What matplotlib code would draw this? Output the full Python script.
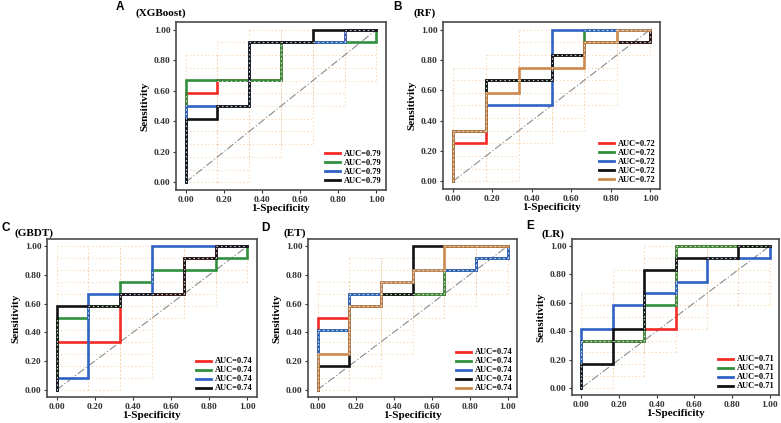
import numpy as np
import matplotlib
matplotlib.use("Agg")
import matplotlib.pyplot as plt
from matplotlib.lines import Line2D

W, H = 781, 423
SERIF = "Liberation Serif"
SANS = "Liberation Sans"

# ---------------- data ----------------
fpr_steps = [0.0, 1/6, 2/6, 3/6, 4/6, 5/6, 1.0]
tick_values = [0.0, 0.2, 0.4, 0.6, 0.8, 1.0]
tick_labels = ["0.00", "0.20", "0.40", "0.60", "0.80", "1.00"]

panel_letters = ["A", "B", "C", "D", "E"]
panel_models = ["(XGBoost)", "(RF)", "(GBDT)", "(ET)", "(LR)"]
auc_values = [0.79, 0.72, 0.74, 0.74, 0.71]

series_colors = ["#f42a25", "#2f8f3c", "#2f62c4", "#111111", "#cd8a4b"]

# TPR reached at each FPR step (step ROC curves)
xgb_tpr = [
    [0.583, 0.667, 0.667, 0.917, 0.917, 1.0, 1.0],
    [0.667, 0.667, 0.667, 0.917, 0.917, 0.917, 1.0],
    [0.5, 0.5, 0.917, 0.917, 0.917, 1.0, 1.0],
    [0.417, 0.5, 0.917, 0.917, 1.0, 1.0, 1.0],
]
rf_tpr = [
    [0.25, 0.667, 0.667, 0.833, 0.917, 0.917, 1.0],
    [0.333, 0.667, 0.667, 0.833, 1.0, 1.0, 1.0],
    [0.333, 0.5, 0.5, 1.0, 1.0, 1.0, 1.0],
    [0.333, 0.667, 0.667, 0.833, 0.917, 0.917, 1.0],
    [0.333, 0.583, 0.75, 0.75, 0.917, 1.0, 1.0],
]
gbdt_tpr = [
    [0.333, 0.333, 0.667, 0.667, 0.917, 1.0, 1.0],
    [0.5, 0.583, 0.75, 0.833, 0.833, 0.917, 1.0],
    [0.083, 0.667, 0.667, 1.0, 1.0, 1.0, 1.0],
    [0.583, 0.583, 0.667, 0.667, 0.917, 1.0, 1.0],
]
et_tpr = [
    [0.5, 0.667, 0.667, 0.667, 0.833, 0.917, 1.0],
    [0.417, 0.667, 0.667, 0.667, 0.833, 0.917, 1.0],
    [0.417, 0.667, 0.75, 0.833, 0.833, 0.917, 1.0],
    [0.167, 0.583, 0.667, 1.0, 1.0, 1.0, 1.0],
    [0.25, 0.583, 0.75, 0.833, 1.0, 1.0, 1.0],
]
lr_tpr = [
    [0.333, 0.333, 0.417, 1.0, 1.0, 1.0, 1.0],
    [0.333, 0.333, 0.583, 1.0, 1.0, 1.0, 1.0],
    [0.417, 0.583, 0.667, 0.75, 0.917, 0.917, 1.0],
    [0.167, 0.417, 0.833, 0.917, 0.917, 1.0, 1.0],
]
panel_tpr = [xgb_tpr, rf_tpr, gbdt_tpr, et_tpr, lr_tpr]

# dotted confidence band (per FPR column): lower / upper TPR
band_lo = [
    [0.0, 0.0, 0.167, 0.25, 0.5, 0.667],
    [0.0, 0.0, 0.25, 0.333, 0.5, 0.833],
    [0.0, 0.0, 0.083, 0.5, 0.583, 0.75],
    [0.0, 0.083, 0.25, 0.5, 0.583, 0.667],
    [0.0, 0.083, 0.25, 0.417, 0.583, 0.583],
]
band_hi = [
    [0.833, 0.917, 1.0, 1.0, 1.0, 1.0],
    [0.75, 0.833, 1.0, 1.0, 1.0, 1.0],
    [1.0, 1.0, 1.0, 1.0, 1.0, 1.0],
    [0.75, 0.917, 0.917, 1.0, 1.0, 1.0],
    [0.667, 0.833, 1.0, 1.0, 1.0, 1.0],
]

# ---------------- layout (pixels: left, top, right, bottom) ----------------
axes_px = [
    (176, 22, 386, 190),
    (443, 22, 660, 189),
    (47, 239, 257, 397),
    (308, 239, 517, 397),
    (572, 239, 779, 395),
]
letter_px = [(120, 7), (397, 7), (6, 228), (265, 228), (530, 226)]
title_px = [(135, 13), (413, 13), (15, 233), (283, 233), (542, 234)]

fig = plt.figure(figsize=(W / 100, H / 100), dpi=100)

NY = 12  # positives
NX = 6   # negatives


def step_path(h):
    xs, ys = [0.0], [0.0]
    for i, v in enumerate(h):
        xs.append(fpr_steps[i]); ys.append(v)
        if i < len(h) - 1:
            xs.append(fpr_steps[i + 1]); ys.append(v)
    return xs, ys


def unit_segments(xs, ys):
    segs = []
    for (x0, y0), (x1, y1) in zip(zip(xs[:-1], ys[:-1]), zip(xs[1:], ys[1:])):
        if abs(x0 - x1) < 1e-9:
            i = int(round(x0 * NX))
            a, b = sorted((int(round(y0 * NY)), int(round(y1 * NY))))
            for k in range(a, b):
                segs.append(("v", i, k))
        else:
            j = int(round(y0 * NY))
            a, b = sorted((int(round(x0 * NX)), int(round(x1 * NX))))
            for k in range(a, b):
                segs.append(("h", k, j))
    return segs


for p in range(5):
    l, t, r, b = axes_px[p]
    ax = fig.add_axes([l / W, 1 - b / H, (r - l) / W, (b - t) / H])
    ax.set_xlim(-0.05, 1.05)
    ax.set_ylim(-0.05, 1.05)

    # dotted band grid
    band_col = "#f7cfa6"
    for c in range(6):
        x0, x1 = fpr_steps[c], fpr_steps[c + 1]
        lo, hi = band_lo[p][c], band_hi[p][c]
        ylines = np.arange(round(lo * NY), round(hi * NY) + 1) / NY
        ax.hlines(ylines, x0, x1, colors=band_col, linestyles=(0, (1.2, 2.6)),
                  linewidth=0.7, zorder=1)
        ax.vlines([x0, x1], lo, hi, colors=band_col, linestyles=(0, (1.2, 2.6)),
                  linewidth=0.7, zorder=1)

    # diagonal
    ax.plot([0, 1], [0, 1], color="#8c8c8c", lw=0.8,
            linestyle=(0, (7, 2, 1, 2)), zorder=2)

    curves = panel_tpr[p]
    seg_owner = {}
    for ci, h in enumerate(curves):
        xs, ys = step_path(h)
        ax.plot(xs, ys, color=series_colors[ci], lw=1.9, zorder=3 + ci,
                solid_joinstyle="miter", solid_capstyle="projecting")
        for s in unit_segments(xs, ys):
            seg_owner.setdefault(s, []).append(ci)

    # light dotted highlight where curves overlap
    for s, owners in seg_owner.items():
        if len(owners) < 2:
            continue
        kind, i, k = s
        if kind == "v":
            xx = [i / NX, i / NX]; yy = [k / NY, (k + 1) / NY]
        else:
            xx = [i / NX, (i + 1) / NX]; yy = [k / NY, k / NY]
        ax.plot(xx, yy, color="#e6e6e6", lw=0.8, alpha=0.9,
                linestyle=(0, (1.4, 2.6)), zorder=20)

    # axes styling
    for sp in ax.spines.values():
        sp.set_linewidth(1.2)
        sp.set_color("#4a4a4a")
    ax.set_xticks(tick_values)
    ax.set_yticks(tick_values)
    ax.set_xticklabels(tick_labels)
    ax.set_yticklabels(tick_labels)
    ax.tick_params(direction="out", length=2.5, width=0.8, color="#333333",
                   labelsize=6.8, pad=1.5, labelcolor="#333333")
    for lab in ax.get_xticklabels() + ax.get_yticklabels():
        lab.set_fontfamily(SERIF)
        lab.set_fontweight("bold")
    ax.set_xlabel("1-Specificity", fontsize=8, fontweight="bold",
                  family=SERIF, labelpad=0.5)
    ax.set_ylabel("Sensitivity", fontsize=8, fontweight="bold",
                  family=SERIF, labelpad=3)

    handles = [Line2D([], [], color=series_colors[ci], lw=2.0)
               for ci in range(len(curves))]
    labels = ["AUC=%.2f" % auc_values[p]] * len(curves)
    ax.legend(handles, labels, loc="lower right", frameon=False,
              prop={"family": SERIF, "weight": "bold", "size": 6},
              handlelength=1.8, handletextpad=0.5, labelspacing=0.12,
              borderaxespad=0.35, borderpad=0.2)

    lx, ly = letter_px[p]
    fig.text(lx / W, 1 - ly / H, panel_letters[p], fontsize=8.5,
             fontweight="bold", family=SANS, ha="center", va="center")
    tx, ty = title_px[p]
    fig.text(tx / W, 1 - ty / H, panel_models[p], fontsize=8,
             fontweight="bold", family=SERIF, ha="left", va="center")

fig.savefig("out.png", dpi=100)
